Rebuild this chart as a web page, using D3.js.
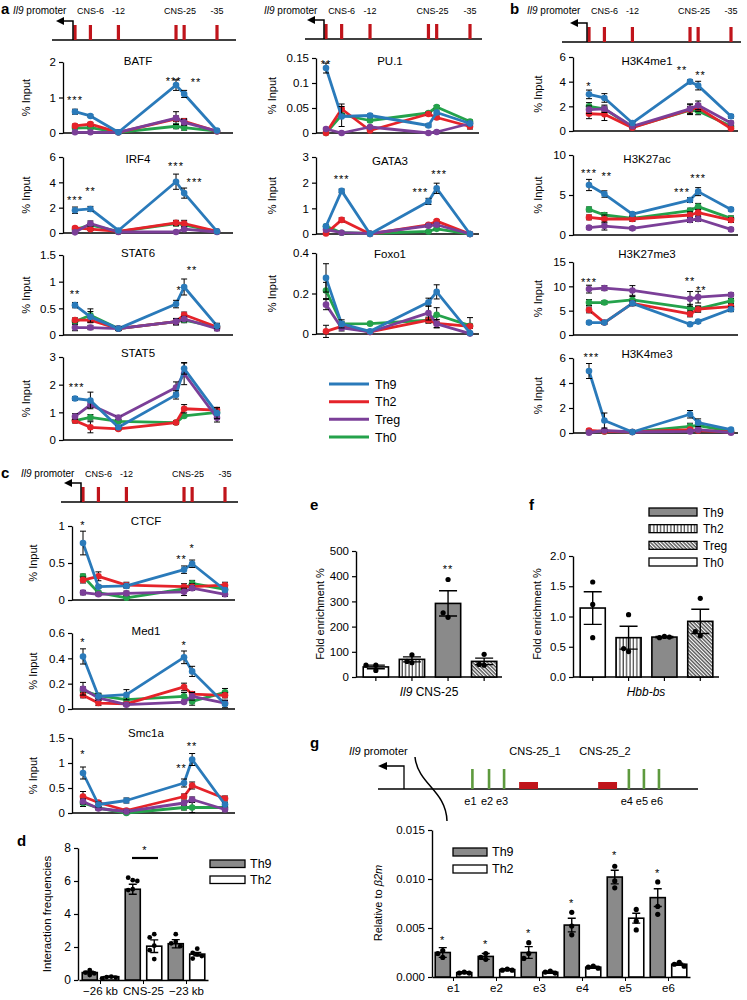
<!DOCTYPE html>
<html>
<head>
<meta charset="utf-8">
<script src="https://cdn.jsdelivr.net/npm/d3@7"></script>
<style>
  body { margin: 0; background: #fff; }
  svg { display: block; font-family: "Liberation Sans", Arial, sans-serif; }
</style>
</head>
<body>
<svg id="fig" width="747" height="1000"></svg>
<script>
// ---- shared ----
var groups = ["Th9", "Th2", "Treg", "Th0"];
var lineColor = { Th9: "#2a7aba", Th2: "#e5232a", Treg: "#7b3f98", Th0: "#24a24b" };
var drawOrder = [3, 1, 2, 0];              // Th0, Th2, Treg, Th9 (Th9 on top)
var loci = [0, 3.8, 10.7, 24.9, 26.9, 35]; // promoter, CNS-6, -12, CNS-25 (x2), -35
var siteLabels = ["CNS-6", "-12", "CNS-25", "-35"];
var siteAt = [3.8, 10.7, 25.9, 35];

// ---- panel a/b/c values: rows = Th9, Th2, Treg, Th0 ----
var batf = [[0.6, 0.48, 0.02, 1.35, 1.1, 0.07], [0.2, 0.25, 0.02, 0.4, 0.33, 0.05], [0.02, 0.02, 0.02, 0.42, 0.3, 0.05], [0.14, 0.15, 0.02, 0.19, 0.15, 0.05]];
var batfErr = [[0.07, 0.03, 0, 0.15, 0.1, 0.03], [0.05, 0.05, 0, 0.08, 0.08, 0.03], [0, 0, 0, 0.18, 0.08, 0], [0.03, 0.03, 0, 0.07, 0.07, 0.03]];
var batfStars = [[0, "***", 0.99, 0], [3, "***", 1.52, -0.3], [4, "**", 1.49, 1.5]];

var irf4 = [[1.8, 1.9, 0.2, 4.05, 3.15, 0.13], [0.4, 0.3, 0.13, 0.8, 0.75, 0.13], [0.05, 0.75, 0.08, 0.08, 0.3, 0.08], [0.25, 0.65, 0.1, 0.75, 0.65, 0.1]];
var irf4Err = [[0.25, 0.2, 0, 0.6, 0.4, 0], [0.1, 0.1, 0, 0.2, 0.25, 0], [0, 0.2, 0, 0, 0.1, 0], [0.1, 0.1, 0, 0.2, 0.2, 0]];
var irf4Stars = [[0, "***", 2.76, 0], [1, "**", 3.47, 0], [3, "***", 5.45, 0], [4, "***", 4.2, 1.3]];

var stat6 = [[0.56, 0.34, 0.12, 0.58, 0.9, 0.17], [0.28, 0.28, 0.12, 0.25, 0.38, 0.15], [0.14, 0.14, 0.12, 0.25, 0.3, 0.12], [0.25, 0.37, 0.12, 0.25, 0.28, 0.15]];
var stat6Err = [[0.05, 0.1, 0.04, 0.07, 0.15, 0.05], [0.04, 0.05, 0.03, 0.05, 0.05, 0.04], [0.06, 0.04, 0.03, 0.06, 0.05, 0.04], [0.04, 0.12, 0.03, 0.06, 0.05, 0.04]];
var stat6Stars = [[0, "**", 0.81, 0], [3, "*", 0.88, 0.4], [4, "**", 1.26, 1]];

var stat5 = [[1.5, 1.43, 0.46, 1.63, 2.58, 0.97], [0.7, 0.46, 0.4, 0.63, 1.13, 1.08], [0.85, 1.27, 0.81, 1.9, 2.4, 0.8], [0.7, 0.82, 0.67, 0.63, 0.87, 1.0]];
var stat5Err = [[0.07, 0.3, 0.06, 0.15, 0.2, 0.2], [0.08, 0.2, 0.05, 0.07, 0.15, 0.1], [0.1, 0.1, 0.07, 0.2, 0.4, 0.15], [0.07, 0.1, 0.05, 0.06, 0.05, 0.1]];
var stat5Stars = [[0, "***", 1.99, 0.2]];

var pu1 = [[0.13, 0.033, 0.035, 0.015, 0.041, 0.019], [0.0, 0.048, 0.005, 0.038, 0.031, 0.013], [0.008, 0.0, 0.012, 0.0, 0.002, 0.019], [0.0, 0.036, 0.025, 0.04, 0.052, 0.023]];
var pu1Err = [[0.01, 0.02, 0.003, 0.003, 0.003, 0.003], [0, 0.01, 0.003, 0.003, 0.003, 0.005], [0.002, 0, 0.003, 0, 0.002, 0.003], [0, 0.003, 0.003, 0.003, 0.003, 0.003]];
var pu1Stars = [[0, "**", 0.142, 0]];

var gata3 = [[0.3, 1.68, 0.0, 1.27, 1.78, 0.0], [0.02, 0.55, 0.0, 0.36, 0.5, 0.0], [0.17, 0.05, 0.02, 0.32, 0.36, 0.0], [0.3, 0.05, 0.02, 0.1, 0.2, 0.0]];
var gata3Err = [[0.05, 0.07, 0, 0.12, 0.2, 0], [0, 0.08, 0, 0.05, 0.05, 0], [0.03, 0, 0, 0.05, 0.05, 0], [0.03, 0, 0, 0.03, 0.03, 0]];
var gata3Stars = [[1, "***", 2.22, 0], [3, "***", 1.71, -1], [4, "***", 2.41, 0.3]];

var foxo1 = [[0.277, 0.05, 0.013, 0.157, 0.208, 0.005], [0.013, 0.038, 0.01, 0.068, 0.052, 0.038], [0.145, 0.03, 0.01, 0.104, 0.05, 0.002], [0.215, 0.05, 0.051, 0.068, 0.095, 0.041]];
var foxo1Err = [[0.07, 0.02, 0.005, 0.02, 0.035, 0.005], [0.03, 0.01, 0.005, 0.01, 0.02, 0.01], [0.025, 0.015, 0.005, 0.035, 0.02, 0.003], [0.04, 0.01, 0.005, 0.015, 0.035, 0.04]];
var foxo1Stars = [];

var h3k4me1 = [[2.97, 2.68, 0.65, 4.0, 3.68, 1.19], [1.4, 1.35, 0.27, 1.73, 1.9, 0.2], [1.73, 1.8, 0.38, 1.8, 2.08, 0.65], [2.0, 1.8, 0.32, 1.68, 1.62, 0.38]];
var h3k4me1Err = [[0.35, 0.35, 0.1, 0.15, 0.35, 0.15], [0.4, 0.5, 0.1, 0.4, 0.3, 0.1], [0.3, 0.3, 0.1, 0.4, 0.35, 0.15], [0.3, 0.2, 0.1, 0.3, 0.3, 0.1]];
var h3k4me1Stars = [[0, "*", 3.8, 0], [3, "**", 5.1, -1], [4, "**", 4.7, 0.3]];

var h3k27ac = [[6.25, 5.12, 2.62, 4.37, 5.42, 3.2], [2.2, 2.0, 2.0, 2.5, 2.8, 1.87], [0.92, 1.12, 0.83, 1.87, 2.0, 0.7], [3.2, 2.5, 2.08, 3.05, 3.55, 2.08]];
var h3k27acErr = [[0.7, 0.4, 0.2, 0.3, 0.5, 0.2], [0.3, 0.5, 0.3, 0.4, 0.4, 0.3], [0.2, 0.5, 0.2, 0.3, 0.3, 0.2], [0.3, 0.3, 0.3, 0.3, 0.4, 0.3]];
var h3k27acStars = [[0, "***", 8.0, 0], [1, "**", 7.6, 0.3], [3, "***", 5.6, -1], [4, "***", 7.4, 0]];

var h3k27me3 = [[2.55, 2.55, 6.5, 2.2, 2.75, 5.3], [5.15, 2.55, 6.5, 4.33, 5.3, 5.85], [9.43, 9.63, 9.15, 7.43, 7.78, 8.26], [6.67, 6.67, 7.2, 5.5, 5.37, 7.0]];
var h3k27me3Err = [[0.3, 0.3, 0.4, 0.3, 0.3, 0.5], [0.6, 0.3, 0.5, 0.6, 0.6, 0.5], [0.8, 0.5, 1.0, 1.5, 1.2, 0.4], [0.6, 0.4, 0.7, 0.8, 0.6, 0.5]];
var h3k27me3Stars = [[0, "***", 11.3, 0], [3, "**", 11.5, 0], [4, "**", 9.6, 0.4]];

var h3k4me3 = [[4.96, 1.0, 0.08, 1.5, 0.83, 0.27], [0.2, 0.13, 0.08, 0.27, 0.2, 0.08], [0.03, 0.2, 0.08, 0.13, 0.27, 0.03], [0.13, 0.13, 0.08, 0.53, 0.6, 0.13]];
var h3k4me3Err = [[0.6, 0.6, 0.05, 0.3, 0.3, 0.1], [0.1, 0.1, 0.05, 0.1, 0.1, 0.05], [0.05, 0.1, 0.05, 0.1, 0.1, 0.03], [0.05, 0.05, 0.05, 0.25, 0.3, 0.05]];
var h3k4me3Stars = [[0, "***", 6.24, 0.3]];

var ctcf = [[0.77, 0.18, 0.19, 0.41, 0.49, 0.135], [0.27, 0.32, 0.2, 0.18, 0.18, 0.2], [0.1, 0.077, 0.09, 0.11, 0.16, 0.077], [0.32, 0.1, 0.03, 0.15, 0.225, 0.144]];
var ctcfErr = [[0.16, 0.02, 0.02, 0.05, 0.05, 0.02], [0.04, 0.06, 0.04, 0.04, 0.04, 0.04], [0.03, 0.02, 0.03, 0.05, 0.03, 0.03], [0.03, 0.02, 0.02, 0.03, 0.04, 0.03]];
var ctcfStars = [[0, "*", 1.04, 0], [3, "**", 0.58, -0.3], [4, "*", 0.73, 0]];

var med1 = [[0.415, 0.1, 0.113, 0.408, 0.297, 0.04], [0.108, 0.047, 0.04, 0.174, 0.118, 0.108], [0.16, 0.087, 0.034, 0.055, 0.1, 0.047], [0.145, 0.105, 0.074, 0.1, 0.06, 0.132]];
var med1Err = [[0.06, 0.02, 0.04, 0.05, 0.04, 0.03], [0.02, 0.02, 0.01, 0.03, 0.02, 0.02], [0.05, 0.02, 0.01, 0.01, 0.03, 0.02], [0.03, 0.02, 0.02, 0.03, 0.03, 0.03]];
var med1Stars = [[0, "*", 0.545, 0], [3, "*", 0.52, 0]];

var smc1a = [[0.8, 0.17, 0.25, 0.6, 1.07, 0.17], [0.33, 0.21, 0.05, 0.33, 0.55, 0.29], [0.23, 0.09, 0.03, 0.2, 0.27, 0.07], [0.2, 0.1, 0.0, 0.11, 0.11, 0.11]];
var smc1aErr = [[0.12, 0.05, 0.05, 0.08, 0.12, 0.04], [0.1, 0.04, 0.03, 0.05, 0.07, 0.05], [0.05, 0.03, 0.02, 0.04, 0.05, 0.03], [0.07, 0.03, 0.02, 0.05, 0.1, 0.05]];
var smc1aStars = [[0, "*", 1.22, 0], [3, "**", 0.94, -0.3], [4, "**", 1.38, 0]];

// ---- panel d ----
var dCats = ["\u221226 kb", "CNS-25", "\u221223 kb"];
var dTh9 = [0.45, 5.5, 2.2];
var dTh9Err = [0.08, 0.3, 0.25];
var dTh9Dots = [[0.6, 0.45, 0.4, 0.3], [6.05, 6.2, 6.0, 5.5, 5.45], [2.78, 2.32, 2.22, 2.05]];
var dTh2 = [0.2, 2.05, 1.57];
var dTh2Err = [0.03, 0.38, 0.1];
var dTh2Dots = [[0.2, 0.18, 0.15, 0.1], [2.78, 2.58, 2.08, 1.81, 1.27], [1.9, 1.65, 1.55, 1.45, 1.3]];

// ---- panels e, f (bar order: Th0, Th2, Th9, Treg) ----
var efOrder = ["Th0", "Th2", "Th9", "Treg"];
var eMean = [40, 70, 292, 62];
var eErr = [7, 10, 50, 13];
var eDots = [[47, 26, 47], [88, 57, 62], [387, 237, 255], [90, 47, 50]];
var fMean = [1.14, 0.65, 0.66, 0.92];
var fErr = [0.27, 0.19, 0.01, 0.2];
var fDots = [[1.57, 1.2, 0.65], [1.03, 0.42, 0.47], [0.67, 0.65, 0.66], [1.3, 0.68, 0.75]];

// ---- panel g ----
var gCats = ["e1", "e2", "e3", "e4", "e5", "e6"];
var gTh9 = [0.0025, 0.0021, 0.0025, 0.0053, 0.0102, 0.0081];
var gTh9Err = [0.0005, 0.0003, 0.0006, 0.0007, 0.0007, 0.0009];
var gTh9Dots = [[0.0027, 0.0024, 0.002], [0.0024, 0.002, 0.0018], [0.0035, 0.0024, 0.0019], [0.0066, 0.0052, 0.0043], [0.0113, 0.0098, 0.0091], [0.0097, 0.0072, 0.0064]];
var gTh2 = [0.00045, 0.00075, 0.00048, 0.001, 0.006, 0.0013];
var gTh2Err = [0.0001, 0.0001, 0.0001, 0.0001, 0.0005, 0.0001];
var gTh2Dots = [[0.0005, 0.0004, 0.0004], [0.0008, 0.0007, 0.0007], [0.0006, 0.0005, 0.0004], [0.0011, 0.001, 0.0009], [0.0069, 0.0057, 0.0048], [0.0015, 0.0013, 0.0011]];
var gStarY = [0.004, 0.0036, 0.0047, 0.0078, 0.0127, 0.0108];

// ---- layout ----
var cols = {
  A: { axis: 63, end: 233, p0: 75, p1: 217, ylab: 26, title: 138 },
  M: { axis: 316, end: 479, p0: 326, p1: 470, ylab: 272, title: 390 },
  B: { axis: 573, end: 738, p0: 589, p1: 731, ylab: 538, title: 647 },
  C: { axis: 72, end: 235, p0: 83, p1: 225, ylab: 33, title: 146 }
};

var lineCharts = [
  { name: "BATF", vals: batf, errs: batfErr, stars: batfStars, ticks: [0, 1, 2], col: "A", top: 62, bottom: 133, titleY: 65 },
  { name: "IRF4", vals: irf4, errs: irf4Err, stars: irf4Stars, ticks: [0, 2, 4, 6], col: "A", top: 157, bottom: 233, titleY: 163 },
  { name: "STAT6", vals: stat6, errs: stat6Err, stars: stat6Stars, ticks: [0, 0.5, 1, 1.5], col: "A", top: 255, bottom: 335, titleY: 257 },
  { name: "STAT5", vals: stat5, errs: stat5Err, stars: stat5Stars, ticks: [0, 1, 2, 3], col: "A", top: 357, bottom: 440, titleY: 357 },
  { name: "PU.1", vals: pu1, errs: pu1Err, stars: pu1Stars, ticks: [0, 0.05, 0.1, 0.15], col: "M", top: 58, bottom: 133, titleY: 65 },
  { name: "GATA3", vals: gata3, errs: gata3Err, stars: gata3Stars, ticks: [0, 1, 2, 3], col: "M", top: 157, bottom: 234, titleY: 165 },
  { name: "Foxo1", vals: foxo1, errs: foxo1Err, stars: foxo1Stars, ticks: [0, 0.2, 0.4], col: "M", top: 253, bottom: 334, titleY: 258 },
  { name: "H3K4me1", vals: h3k4me1, errs: h3k4me1Err, stars: h3k4me1Stars, ticks: [0, 2, 4, 6], col: "B", top: 57, bottom: 131, titleY: 65 },
  { name: "H3K27ac", vals: h3k27ac, errs: h3k27acErr, stars: h3k27acStars, ticks: [0, 5, 10], col: "B", top: 155, bottom: 235, titleY: 163 },
  { name: "H3K27me3", vals: h3k27me3, errs: h3k27me3Err, stars: h3k27me3Stars, ticks: [0, 5, 10, 15], col: "B", top: 262, bottom: 335, titleY: 258 },
  { name: "H3K4me3", vals: h3k4me3, errs: h3k4me3Err, stars: h3k4me3Stars, ticks: [0, 2, 4, 6], col: "B", top: 358, bottom: 433, titleY: 358 },
  { name: "CTCF", vals: ctcf, errs: ctcfErr, stars: ctcfStars, ticks: [0, 0.5, 1], col: "C", top: 526, bottom: 600, titleY: 525 },
  { name: "Med1", vals: med1, errs: med1Err, stars: med1Stars, ticks: [0, 0.2, 0.4, 0.6], col: "C", top: 633, bottom: 709, titleY: 635 },
  { name: "Smc1a", vals: smc1a, errs: smc1aErr, stars: smc1aStars, ticks: [0, 0.5, 1, 1.5], col: "C", top: 738, bottom: 813, titleY: 737 }
];

var svg = d3.select("#fig");
var fontFam = "'Liberation Sans', Arial, sans-serif";
var darkRed = "#c0141b";

// patterns for e/f bars
var defs = svg.append("defs");
var vs = defs.append("pattern").attr("id", "vstripe").attr("patternUnits", "userSpaceOnUse")
  .attr("width", 3.4).attr("height", 10);
vs.append("rect").attr("width", 3.4).attr("height", 10).attr("fill", "#fff");
vs.append("line").attr("x1", 1).attr("x2", 1).attr("y1", 0).attr("y2", 10).attr("stroke", "#000").attr("stroke-width", 0.9);
var hp = defs.append("pattern").attr("id", "hatch").attr("patternUnits", "userSpaceOnUse")
  .attr("width", 2.6).attr("height", 10).attr("patternTransform", "rotate(-45)");
hp.append("rect").attr("width", 2.6).attr("height", 10).attr("fill", "#fff");
hp.append("line").attr("x1", 1).attr("x2", 1).attr("y1", 0).attr("y2", 10).attr("stroke", "#222").attr("stroke-width", 1.1);
var barFill = { Th9: "#8a8a8a", Th2: "url(#vstripe)", Treg: "url(#hatch)", Th0: "#fff" };

function panelLabel(t, x, y) {
  svg.append("text").attr("x", x).attr("y", y).attr("font-size", 15).attr("font-weight", "bold").text(t);
}

function starText(g, x, yc, label, size) {
  g.append("text").attr("x", x).attr("y", yc + 6).attr("text-anchor", "middle")
    .attr("font-size", size || 11).attr("letter-spacing", 1).text(label);
}

// locus diagram above line charts
function diagram(c, base, textY) {
  var col = cols[c];
  var x = d3.scaleLinear().domain([0, 35]).range([col.p0, col.p1]);
  var g = svg.append("g");
  var t = g.append("text").attr("x", col.p0 - 62).attr("y", textY).attr("font-size", 10);
  t.append("tspan").attr("font-style", "italic").text("Il9");
  t.append("tspan").text(" promoter");
  siteLabels.forEach(function(s, i) {
    g.append("text").attr("x", x(siteAt[i])).attr("y", textY).attr("text-anchor", "middle")
      .attr("font-size", 9).text(s);
  });
  g.append("line").attr("x1", col.axis - 11).attr("x2", col.end + 3).attr("y1", base).attr("y2", base)
    .attr("stroke", "#000").attr("stroke-width", 1.6);
  g.selectAll(".site").data(loci).enter().append("rect")
    .attr("x", function(d) { return x(d) - 1.6; }).attr("y", base - 15)
    .attr("width", 3.2).attr("height", 15).attr("fill", darkRed);
  var ax = col.p0 - 2;
  g.append("path").attr("d", "M" + ax + "," + base + "V" + (base - 19) + "H" + (col.p0 - 11))
    .attr("fill", "none").attr("stroke", "#000").attr("stroke-width", 1.5);
  g.append("path").attr("d", "M" + (col.p0 - 19) + "," + (base - 19) + "L" + (col.p0 - 11) + "," + (base - 23) +
    "L" + (col.p0 - 11) + "," + (base - 15) + "Z").attr("fill", "#000");
}

function lineChart(cfg) {
  var col = cols[cfg.col];
  var x = d3.scaleLinear().domain([0, 35]).range([col.p0, col.p1]);
  var y = d3.scaleLinear().domain([0, cfg.ticks[cfg.ticks.length - 1]]).range([cfg.bottom, cfg.top]);
  var g = svg.append("g");

  var ax = g.append("g").attr("transform", "translate(" + col.axis + ",0)")
    .call(d3.axisLeft(y).tickValues(cfg.ticks).tickSize(4).tickSizeOuter(0).tickPadding(3)
      .tickFormat(function(d) { return String(d); }));
  ax.attr("font-family", fontFam).attr("font-size", 11.5);
  ax.select(".domain").attr("stroke-width", 1.3);
  ax.selectAll(".tick line").attr("stroke-width", 1.2);

  g.append("line").attr("x1", col.axis).attr("x2", col.end).attr("y1", y(0)).attr("y2", y(0))
    .attr("stroke", "#000").attr("stroke-width", 1.5);

  var line = d3.line().x(function(d, i) { return x(loci[i]); }).y(function(d) { return y(d); });

  drawOrder.forEach(function(si) {
    var name = groups[si];
    var vals = cfg.vals[si], errs = cfg.errs[si];
    g.append("path").datum(vals).attr("d", line).attr("fill", "none")
      .attr("stroke", lineColor[name]).attr("stroke-width", 2.8).attr("stroke-linejoin", "round");
    vals.forEach(function(v, i) {
      var e = errs[i];
      if (!e) return;
      var cx = x(loci[i]);
      g.append("path").attr("d",
        "M" + cx + "," + y(v - e) + "V" + y(v + e) +
        "M" + (cx - 3) + "," + y(v + e) + "H" + (cx + 3) +
        "M" + (cx - 3) + "," + y(v - e) + "H" + (cx + 3))
        .attr("stroke", "#000").attr("stroke-width", 1).attr("fill", "none");
    });
    g.selectAll(null).data(vals).enter().append("circle")
      .attr("cx", function(d, i) { return x(loci[i]); })
      .attr("cy", function(d) { return y(d); })
      .attr("r", 3.3).attr("fill", lineColor[name]);
  });

  cfg.stars.forEach(function(s) {
    starText(g, x(loci[s[0]]) + s[3] * 8, y(s[2]), s[1]);
  });

  g.append("text").attr("x", col.title).attr("y", cfg.titleY).attr("text-anchor", "middle")
    .attr("font-size", 11.5).text(cfg.name);
  g.append("text").attr("transform", "translate(" + col.ylab + "," + ((cfg.top + cfg.bottom) / 2) + ") rotate(-90)")
    .attr("text-anchor", "middle").attr("dy", "0.35em").attr("font-size", 11).text("% Input");
}

// dots placed like a simple beeswarm around a centre
function swarm(vals, y, cx, r) {
  var placed = [];
  var step = r * 1.9;
  var offs = [0, -step, step, -2 * step, 2 * step];
  return vals.map(function(v) {
    var py = y(v);
    var off = offs.find(function(o) {
      return placed.every(function(p) { return Math.hypot(p.x - (cx + o), p.y - py) >= r * 1.9; });
    });
    if (off === undefined) off = 0;
    var pt = { x: cx + off, y: py };
    placed.push(pt);
    return pt;
  });
}

function bar(g, cx, w, mean, err, dots, fill, y, r, cap) {
  g.append("rect").attr("x", cx - w / 2).attr("y", y(mean)).attr("width", w).attr("height", y(0) - y(mean))
    .attr("fill", fill).attr("stroke", "#000").attr("stroke-width", 1.6);
  g.append("path").attr("d",
    "M" + cx + "," + y(mean - err) + "V" + y(mean + err) +
    "M" + (cx - cap) + "," + y(mean + err) + "H" + (cx + cap) +
    "M" + (cx - cap) + "," + y(mean - err) + "H" + (cx + cap))
    .attr("stroke", "#000").attr("stroke-width", 1.4).attr("fill", "none");
  swarm(dots, y, cx, r).forEach(function(p) {
    g.append("circle").attr("cx", p.x).attr("cy", p.y).attr("r", r).attr("fill", "#000");
  });
}

function leftAxis(g, y, x0, ticks, fmt, size) {
  var ax = g.append("g").attr("transform", "translate(" + x0 + ",0)")
    .call(d3.axisLeft(y).tickValues(ticks).tickSize(4).tickSizeOuter(0).tickPadding(3).tickFormat(fmt));
  ax.attr("font-family", fontFam).attr("font-size", size);
  ax.select(".domain").attr("stroke-width", 1.4);
  ax.selectAll(".tick line").attr("stroke-width", 1.2);
  return ax;
}

// ---------------- draw ----------------
panelLabel("a", 1, 14);
panelLabel("b", 510, 14);
panelLabel("c", 1, 478);
panelLabel("d", 17, 846);
panelLabel("e", 310, 510);
panelLabel("f", 529, 510);
panelLabel("g", 310, 748);

diagram("A", 40, 14);
diagram("M", 39, 14);
diagram("B", 42, 14);
diagram("C", 502, 477);

lineCharts.forEach(lineChart);

// legend for line charts
(function() {
  var g = svg.append("g");
  var ly = d3.scalePoint().domain(groups).range([384, 437]);
  groups.forEach(function(n) {
    g.append("line").attr("x1", 329).attr("x2", 369).attr("y1", ly(n)).attr("y2", ly(n))
      .attr("stroke", lineColor[n]).attr("stroke-width", 3);
    g.append("text").attr("x", 375).attr("y", ly(n) + 4.5).attr("font-size", 12.5).text(n);
  });
})();

// panel d
(function() {
  var g = svg.append("g");
  var x = d3.scaleBand().domain(dCats).range([79, 208]);
  var xi = d3.scaleBand().domain(["Th9", "Th2"]).range([0, x.bandwidth()]).paddingInner(0.3).paddingOuter(0.15);
  var y = d3.scaleLinear().domain([0, 8]).range([980, 848]);
  leftAxis(g, y, 78, [0, 2, 4, 6, 8], function(d) { return d; }, 12);
  var xa = g.append("g").attr("transform", "translate(0,980)")
    .call(d3.axisBottom(x).tickSize(4).tickSizeOuter(0).tickPadding(3));
  xa.attr("font-family", fontFam).attr("font-size", 11.5);
  xa.select(".domain").attr("stroke-width", 1.4);
  dCats.forEach(function(c, i) {
    var w = xi.bandwidth();
    bar(g, x(c) + xi("Th9") + w / 2, w, dTh9[i], dTh9Err[i], dTh9Dots[i], barFill.Th9, y, 2.4, 4);
    bar(g, x(c) + xi("Th2") + w / 2, w, dTh2[i], dTh2Err[i], dTh2Dots[i], "#fff", y, 2.4, 4);
  });
  g.append("line").attr("x1", 132).attr("x2", 158).attr("y1", 858).attr("y2", 858)
    .attr("stroke", "#000").attr("stroke-width", 2.2);
  starText(g, 145, 848, "*", 11);
  g.append("text").attr("transform", "translate(47,914) rotate(-90)").attr("text-anchor", "middle")
    .attr("dy", "0.35em").attr("font-size", 11.5).text("Interaction frequencies");
  [["Th9", "#8a8a8a", 860], ["Th2", "#fff", 876]].forEach(function(l) {
    g.append("rect").attr("x", 210).attr("y", l[2]).attr("width", 35).attr("height", 7.5)
      .attr("fill", l[1]).attr("stroke", "#000").attr("stroke-width", 1.3);
    g.append("text").attr("x", 250).attr("y", l[2] + 7.5).attr("font-size", 12.5).text(l[0]);
  });
})();

// panels e and f
function fold(x0, x1, axisEnd, yTop, yMax, ticks, fmt, means, errs, dots, label, italicAll, star) {
  var g = svg.append("g");
  var x = d3.scaleBand().domain(efOrder).range([x0, x1]).paddingInner(0.3).paddingOuter(0.2);
  var y = d3.scaleLinear().domain([0, yMax]).range([677, yTop]);
  leftAxis(g, y, x0, ticks, fmt, 11.5);
  g.append("line").attr("x1", x0).attr("x2", axisEnd).attr("y1", y(0)).attr("y2", y(0))
    .attr("stroke", "#000").attr("stroke-width", 1.4);
  efOrder.forEach(function(n, i) {
    var cx = x(n) + x.bandwidth() / 2;
    g.append("line").attr("x1", cx).attr("x2", cx).attr("y1", y(0)).attr("y2", y(0) + 4)
      .attr("stroke", "#000").attr("stroke-width", 1.2);
    bar(g, cx, x.bandwidth(), means[i], errs[i], dots[i], barFill[n], y, 2.6, 9);
  });
  if (star) starText(g, x("Th9") + x.bandwidth() / 2, star[0], star[1], 11);
  var t = g.append("text").attr("x", (x0 + axisEnd) / 2).attr("y", 696).attr("text-anchor", "middle").attr("font-size", 12);
  if (italicAll) {
    t.attr("font-style", "italic").text(label);
  } else {
    t.append("tspan").attr("font-style", "italic").text("Il9");
    t.append("tspan").text(" " + label);
  }
  g.append("text").attr("transform", "translate(" + (x0 - 36) + ",614) rotate(-90)").attr("text-anchor", "middle")
    .attr("dy", "0.35em").attr("font-size", 11).text("Fold enrichment %");
}
fold(356, 504, 502, 551, 500, [0, 100, 200, 300, 400, 500], function(d) { return d; },
  eMean, eErr, eDots, "CNS-25", false, [567, "**"]);
fold(573, 720, 719, 556, 2, [0, 0.5, 1, 1.5, 2], d3.format(".1f"),
  fMean, fErr, fDots, "Hbb-bs", true, null);

// e/f legend
(function() {
  var g = svg.append("g");
  var ly = d3.scalePoint().domain(["Th9", "Th2", "Treg", "Th0"]).range([512, 562]);
  ly.domain().forEach(function(n) {
    g.append("rect").attr("x", 649).attr("y", ly(n) - 4).attr("width", 48).attr("height", 8)
      .attr("fill", barFill[n]).attr("stroke", "#000").attr("stroke-width", 1.3);
    g.append("text").attr("x", 703).attr("y", ly(n) + 4.5).attr("font-size", 12).text(n);
  });
})();

// panel g diagram
(function() {
  var g = svg.append("g");
  var base = 789;
  var t = g.append("text").attr("x", 349).attr("y", 755).attr("font-size", 11);
  t.append("tspan").attr("font-style", "italic").text("Il9");
  t.append("tspan").text(" promoter");
  g.append("text").attr("x", 535).attr("y", 755).attr("text-anchor", "middle").attr("font-size", 11).text("CNS-25_1");
  g.append("text").attr("x", 605).attr("y", 755).attr("text-anchor", "middle").attr("font-size", 11).text("CNS-25_2");
  g.append("line").attr("x1", 378).attr("x2", 698).attr("y1", base).attr("y2", base)
    .attr("stroke", "#000").attr("stroke-width", 1.5);
  g.append("path").attr("d", "M404," + base + "V766H386").attr("fill", "none").attr("stroke", "#000").attr("stroke-width", 1.3);
  g.append("path").attr("d", "M378,766L387,762L387,770Z").attr("fill", "#000");
  g.append("path").attr("d", "M415,757C418,785 446,790 447,821").attr("fill", "none")
    .attr("stroke", "#000").attr("stroke-width", 1.5);
  // enhancer positions along the locus (arbitrary units)
  var gx = d3.scaleLinear().domain([0, 100]).range([378, 698]);
  var enh = [29.5, 34.7, 39.4, 78.4, 83.1, 87.8];
  var cns = [[44.1, 50.0], [68.8, 74.7]];
  enh.forEach(function(p, i) {
    g.append("rect").attr("x", gx(p) - 1.3).attr("y", 769).attr("width", 2.6).attr("height", 20).attr("fill", "#5e9a3e");
    g.append("text").attr("x", gx(p) - 2).attr("y", 805).attr("text-anchor", "middle").attr("font-size", 11).text(gCats[i]);
  });
  cns.forEach(function(c) {
    g.append("rect").attr("x", gx(c[0])).attr("y", 782).attr("width", gx(c[1]) - gx(c[0])).attr("height", 7).attr("fill", darkRed);
  });
})();

// panel g chart
(function() {
  var g = svg.append("g");
  var x = d3.scaleBand().domain(gCats).range([432, 690]);
  var xi = d3.scaleBand().domain(["Th9", "Th2"]).range([0, x.bandwidth()]).paddingInner(0.3).paddingOuter(0.15);
  var y = d3.scaleLinear().domain([0, 0.015]).range([977, 830]);
  leftAxis(g, y, 432, [0, 0.005, 0.01, 0.015], d3.format(".3f"), 11.5);
  var xa = g.append("g").attr("transform", "translate(0,977)")
    .call(d3.axisBottom(x).tickSize(4).tickSizeOuter(0).tickPadding(3));
  xa.attr("font-family", fontFam).attr("font-size", 11.5);
  xa.select(".domain").attr("stroke-width", 1.4);
  gCats.forEach(function(c, i) {
    var w = xi.bandwidth();
    var c9 = x(c) + xi("Th9") + w / 2;
    bar(g, c9, w, gTh9[i], gTh9Err[i], gTh9Dots[i], barFill.Th9, y, 2.6, 4);
    bar(g, x(c) + xi("Th2") + w / 2, w, gTh2[i], gTh2Err[i], gTh2Dots[i], "#fff", y, 2.6, 4);
    starText(g, c9, y(gStarY[i]), "*", 11);
  });
  var t = g.append("text").attr("transform", "translate(378,903) rotate(-90)").attr("text-anchor", "middle")
    .attr("dy", "0.35em").attr("font-size", 11);
  t.append("tspan").text("Relative to ");
  t.append("tspan").attr("font-style", "italic").text("\u03b22m");
  [["Th9", "#8a8a8a", 848], ["Th2", "#fff", 865]].forEach(function(l) {
    g.append("rect").attr("x", 453).attr("y", l[2]).attr("width", 34).attr("height", 8)
      .attr("fill", l[1]).attr("stroke", "#000").attr("stroke-width", 1.3);
    g.append("text").attr("x", 492).attr("y", l[2] + 8).attr("font-size", 12.5).text(l[0]);
  });
})();
</script>
</body>
</html>
